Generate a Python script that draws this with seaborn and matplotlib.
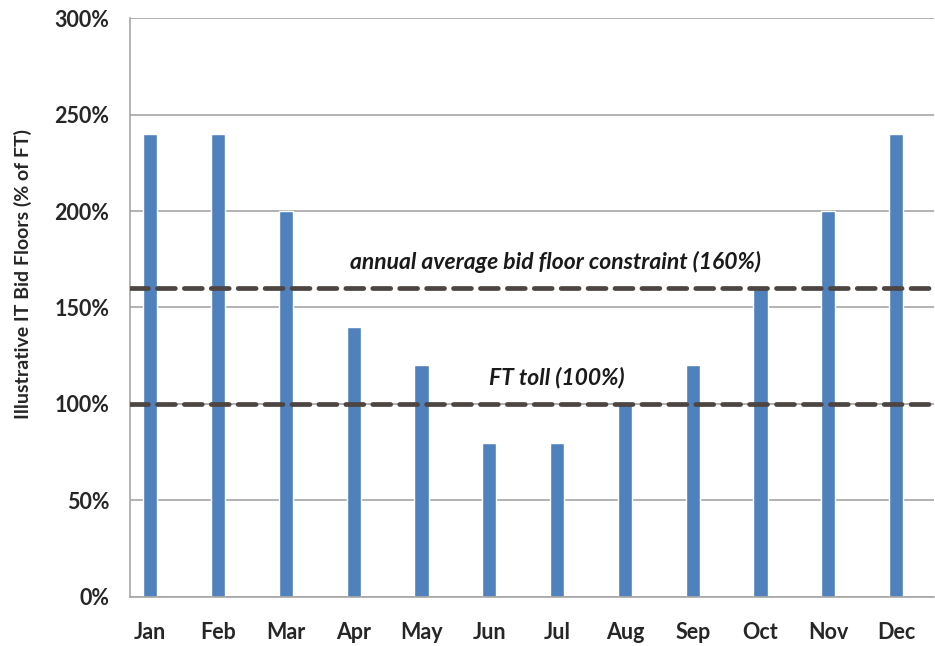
import matplotlib
matplotlib.use("Agg")
from matplotlib import pyplot as plt
from matplotlib.ticker import PercentFormatter
import seaborn as sns
import pandas as pd

months = ["Jan", "Feb", "Mar", "Apr", "May", "Jun", "Jul", "Aug", "Sep", "Oct", "Nov", "Dec"]
floors = [240, 240, 200, 140, 120, 80, 80, 100, 120, 160, 200, 240]
avg_constraint = 160
ft_toll = 100

sns.set_style("white")
plt.rcParams["font.family"] = ["Lato", "DejaVu Sans"]

df = pd.DataFrame({"month": months, "floor": floors})

fig = plt.figure(figsize=(9.35, 6.46), dpi=100)
ax = fig.add_axes([0.139, 0.076, 0.86, 0.896])

sns.barplot(data=df, x="month", y="floor", color="#4f81bd", width=0.21,
            saturation=1, ax=ax, zorder=2)

for val in (avg_constraint, ft_toll):
    ax.axhline(val, color="#4d4542", lw=3.4, ls=(0, (3.8, 1.9)),
               dash_capstyle="round", zorder=3)

ax.text(5.98, 173.5, "annual average bid floor constraint (160%)", ha="center", va="center",
        fontsize=16.5, fontweight="bold", fontstyle="italic", color="#1a1a1a")
ax.text(6.0, 113.5, "FT toll (100%)", ha="center", va="center",
        fontsize=16.5, fontweight="bold", fontstyle="italic", color="#1a1a1a")

ax.set_ylim(0, 300)
ax.set_xlim(-0.3, 11.56)
ax.set_yticks(range(0, 301, 50))
ax.yaxis.set_major_formatter(PercentFormatter(decimals=0))
ax.yaxis.grid(True, color="#a6a6a6", lw=1.2, zorder=0)
ax.set_axisbelow(True)

for side in ("left", "bottom"):
    ax.spines[side].set_color("#a6a6a6")
    ax.spines[side].set_linewidth(1.2)
ax.spines["right"].set_visible(False)
ax.spines["top"].set_visible(False)

ax.tick_params(axis="y", length=0, pad=15, labelsize=15.5)
ax.tick_params(axis="x", length=0, pad=18, labelsize=15.5)
for lbl in ax.get_xticklabels() + ax.get_yticklabels():
    lbl.set_fontweight("bold")

ax.set_xlabel("")
ax.set_ylabel("Illustrative IT Bid Floors (% of FT)", fontsize=14, fontweight="bold")
ax.yaxis.set_label_coords(-0.122, 0.558)

fig.savefig("out.png", dpi=100)
